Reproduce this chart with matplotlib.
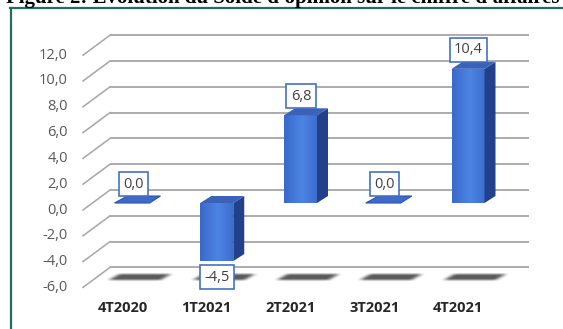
import numpy as np
import matplotlib
matplotlib.use("Agg")
import matplotlib.pyplot as plt
from matplotlib.patches import Polygon, Rectangle
from matplotlib.lines import Line2D

# données
trimestres = ["4T2020", "1T2021", "2T2021", "3T2021", "4T2021"]
solde = [0.0, -4.5, 6.8, 0.0, 10.4]
graduations = [-6, -4, -2, 0, 2, 4, 6, 8, 10, 12]
titre = "Figure 2: Evolution du Solde d'opinion sur le chiffre d'affaires"

W, H = 563, 329
PX, PY = 83.75, 12.9          # pixels par catégorie / par unité
X0, Y0 = 133, 203             # origine (barre 0, valeur 0) en pixels

def dx(p):
    return p / PX

def dy(p):
    return p / PY

plt.rcParams['font.family'] = ['Open Sans', 'DejaVu Sans']

fig = plt.figure(figsize=(W / 100, H / 100), dpi=100)
ax = fig.add_axes([0, 0, 1, 1])
ax.set_axis_off()

GRID = '#a6a6a6'
FRONT_A, FRONT_B = np.array([0.21, 0.39, 0.77]), np.array([0.30, 0.52, 0.89])
SIDE = '#22418a'
TOP = '#3a62b8'
EDGE_BOX = '#4472c4'

bar_w = dx(33)
depth_x, depth_y = dx(11), dy(7)

# quadrillage en perspective
gx0, gx1 = dx(110 - X0), dx(529 - X0)
lead_x = dx(83 - X0)
for v in graduations:
    yb = v + dy(13)
    yf = v - dy(7)
    ax.plot([gx0, gx1], [yb, yb], color=GRID, lw=1.3, zorder=1, solid_capstyle='butt')
    ax.plot([lead_x, gx0], [yf, yb], color=GRID, lw=1.1, zorder=1)
    ax.text(dx(68 - X0), yf, f"{v:.1f}".replace('.', ','), ha='right', va='center',
            fontsize=10.5, color='#595959')

# ombres au sol (flou)
def ombre(cx):
    cy = dy(Y0 - 277)
    x0, x1 = cx - dx(40), cx + dx(40)
    y0, y1 = cy - dy(10), cy + dy(10)
    nx, ny = 160, 40
    xs = np.linspace(x0, x1, nx)
    ys = np.linspace(y0, y1, ny)
    XX, YY = np.meshgrid(xs, ys)
    t = (YY - (cy - dy(3))) / dy(6)          # 0 bas, 1 haut
    left = cx - dx(28) + t * dx(10)
    right = cx + dx(24) + t * dx(10)
    m = ((t >= 0) & (t <= 1) & (XX >= left) & (XX <= right)).astype(float)
    k = np.ones(11) / 11
    for _ in range(2):
        m = np.apply_along_axis(lambda r: np.convolve(r, k, mode='same'), 1, m)
    k2 = np.ones(5) / 5
    m = np.apply_along_axis(lambda c: np.convolve(c, k2, mode='same'), 0, m)
    img = np.zeros((ny, nx, 4))
    img[..., :3] = 0.32
    img[..., 3] = np.clip(m * 0.95, 0, 1)
    ax.imshow(img, extent=[x0, x1, y0, y1], origin='lower', aspect='auto',
              interpolation='bilinear', zorder=2)

for i in range(len(trimestres)):
    ombre(i + dx(4))

# barres 3D
grad = np.linspace(0, 1, 64)
prof = 1 - np.abs(grad - 0.55) * 1.5
prof = np.clip(prof, 0, 1)
cols = FRONT_A[None, :] + (FRONT_B - FRONT_A)[None, :] * prof[:, None]
grad_img = cols[None, :, :]

for i, v in enumerate(solde):
    xl, xr = i - bar_w / 2, i + bar_w / 2
    lo, hi = min(0, v), max(0, v)
    if hi - lo > 0:
        rect = Rectangle((xl, lo), bar_w, hi - lo, fc='none', ec='none', zorder=3)
        ax.add_patch(rect)
        im = ax.imshow(grad_img, extent=[xl, xr, lo, hi], aspect='auto', zorder=3)
        im.set_clip_path(rect)
        side = Polygon([(xr, lo), (xr + depth_x, lo + depth_y),
                        (xr + depth_x, hi + depth_y), (xr, hi)],
                       closed=True, fc=SIDE, ec='none', zorder=3)
        ax.add_patch(side)
        top = Polygon([(xl, hi), (xr, hi), (xr + depth_x, hi + depth_y),
                       (xl + depth_x, hi + depth_y)], closed=True, fc=TOP, ec='none', zorder=3)
        ax.add_patch(top)
    else:
        top = Polygon([(xl - dx(2), v), (xr, v), (xr + depth_x, v + depth_y),
                       (xl + depth_x, v + depth_y)], closed=True, fc='#3d6bcc',
                      ec='#2c52a8', lw=0.8, zorder=3)
        ax.add_patch(top)

    # étiquette de valeur
    ly = v + dy(19) if v >= 0 else v - dy(16)
    ax.text(i + dx(0.5), ly, f"{v:.1f}".replace('.', ','), ha='center', va='center',
            fontsize=10.5, color='#404040', zorder=5,
            bbox=dict(boxstyle='square,pad=0.3', fc='white', ec=EDGE_BOX, lw=1.2))

# libellés des trimestres
for i, t in enumerate(trimestres):
    ax.text(i - dx(10), dy(Y0 - 308), t, ha='center', va='center', fontsize=10.5,
            fontweight='bold', color='#262626')

ax.set_xlim(dx(-X0), dx(W - X0))
ax.set_ylim(dy(Y0 - H), dy(Y0))

# cadre vert et titre
vert = '#1f6f5c'
fig.add_artist(Line2D([10.5 / W, 10.5 / W], [0, 1 - 8 / H], color=vert, lw=1.6))
fig.add_artist(Line2D([10 / W, 1], [1 - 8 / H, 1 - 8 / H], color=vert, lw=1.6))
fig.text(6 / W, 1 - 3.5 / H, titre, ha='left', va='baseline', fontsize=15,
         fontweight='bold', family='Liberation Serif', color='black')

fig.savefig("out.png", dpi=100)
